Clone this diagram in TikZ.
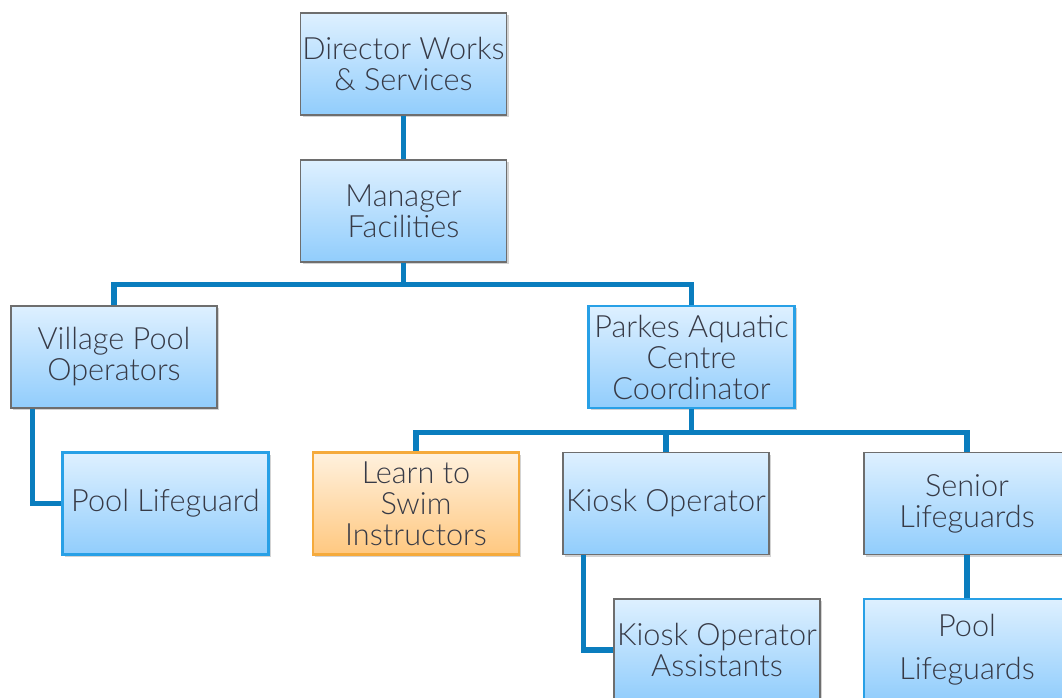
\documentclass[tikz,border=0pt]{standalone}
\usepackage{fontspec}
\setmainfont{Lato}[UprightFont={* Light}]
\usepackage{xcolor}
\usetikzlibrary{positioning,calc,shadows}
\definecolor{linkblue}{RGB}{10,125,190}
\definecolor{boxtop}{RGB}{222,240,255}
\definecolor{boxbot}{RGB}{145,205,252}
\definecolor{orgtop}{RGB}{255,241,222}
\definecolor{orgbot}{RGB}{255,200,128}
\definecolor{orgline}{RGB}{245,170,60}
\definecolor{grayline}{RGB}{110,110,110}
\definecolor{blueline}{RGB}{40,160,230}
\definecolor{txt}{RGB}{55,58,70}
\tikzset{
    role/.style={rectangle, minimum width=154.5pt, minimum height=76.5pt, inner sep=0pt,
        align=center, font=\fontsize{23}{23.25}\selectfont, text=txt,
        top color=boxtop, bottom color=boxbot, draw=grayline, line width=0.8pt,
        drop shadow={shadow xshift=1.5pt, shadow yshift=-1.5pt, opacity=0.35}},
    bluerole/.style={role, draw=blueline, line width=1.6pt},
    orgrole/.style={role, top color=orgtop, bottom color=orgbot, draw=orgline, line width=1.6pt},
    link/.style={draw=linkblue, line width=3.8pt}
}

\begin{document}
\begin{tikzpicture}[x=0.75pt, y=-0.75pt]
    \useasboundingbox (0,0) rectangle (1062,698);
    \clip (0,0) rectangle (1062,698);

    % top of the chart
    \node[role] (dir) at (403.5,64) {Director Works\\\& Services};
    \node[role] (mgr) at (403.5,211) {Manager\\Facilities};

    % second level
    \node[role] (vpo) at (114,357) {Village Pool\\Operators};
    \node[bluerole] (pac) at (691.5,357) {Parkes Aquatic\\Centre\\Coordinator};

    % third level
    \node[bluerole] (plg) at (165.5,503.5) {Pool Lifeguard};
    \node[orgrole] (lts) at (416,503.5) {Learn to\\Swim\\Instructors};
    \node[role] (kio) at (666,503.5) {Kiosk Operator};
    \node[role] (sen) at (967,503.5) {Senior\\Lifeguards};

    % bottom level
    \node[role] (koa) at (717,650) {Kiosk Operator\\Assistants};
    \node[bluerole, font=\fontsize{23}{32}\selectfont] (plgs) at (967,650) {Pool\\Lifeguards};

    % connectors
    \draw[link] (dir.south) -- (mgr.north);
    \draw[link] (mgr.south) -- ++(0,22) -| (vpo.north);
    \draw[link] (mgr.south) -- ++(0,22) -| (pac.north);
    \draw[link] ([xshift=16.5pt]vpo.south west) |- (plg.west);
    \draw[link] (pac.south) -- ++(0,23) -| (lts.north);
    \draw[link] (pac.south) -- ++(0,23) -| (kio.north);
    \draw[link] (pac.south) -- ++(0,23) -| (sen.north);
    \draw[link] ([xshift=15.75pt]kio.south west) |- (koa.west);
    \draw[link] (sen.south) -- (plgs.north);
\end{tikzpicture}
\end{document}
